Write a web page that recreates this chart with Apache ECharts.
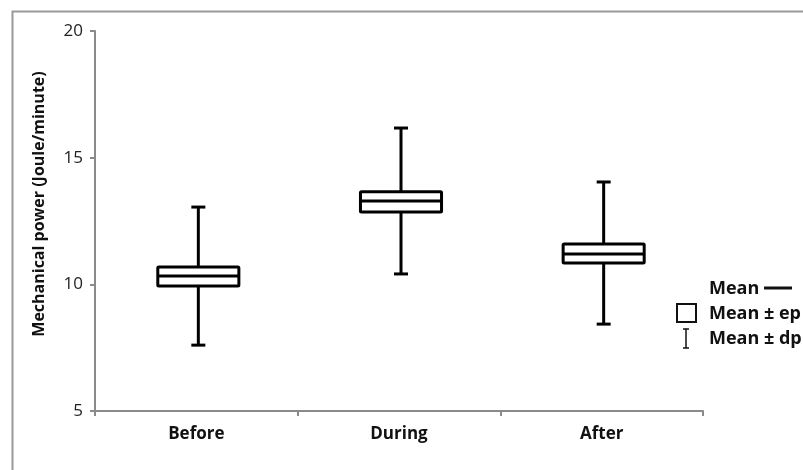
<!DOCTYPE html>
<html>
<head>
<meta charset="utf-8">
<script src="https://cdn.jsdelivr.net/npm/echarts@6/dist/echarts.min.js"></script>
<style>
html,body{margin:0;padding:0;background:#fff;}
#chart{width:803px;height:470px;}
</style>
</head>
<body>
<div id="chart"></div>
<script>
// Data
const categories = ['Before', 'During', 'After'];
const means = [10.33, 13.29, 11.20];
const boxLow = [9.93, 12.86, 10.84];    // mean - ep
const boxHigh = [10.68, 13.65, 11.59];  // mean + ep
const whiskerLow = [7.60, 10.41, 8.43]; // mean - dp
const whiskerHigh = [13.05, 16.17, 14.04]; // mean + dp
const yTicks = [5, 10, 15, 20];
const yTitle = 'Mechanical power (Joule/minute)';

const FONT = '"Open Sans", "Liberation Sans", sans-serif';

const seriesData = categories.map((c, i) => [i, whiskerLow[i], boxLow[i], means[i], boxHigh[i], whiskerHigh[i]]);

function renderItem(params, api) {
  const i = api.value(0);
  const pWL = api.coord([i, api.value(1)]);
  const pBL = api.coord([i, api.value(2)]);
  const pM = api.coord([i, api.value(3)]);
  const pBH = api.coord([i, api.value(4)]);
  const pWH = api.coord([i, api.value(5)]);
  const band = api.size([1, 0])[0];
  const bw = band * 0.4;
  const cx = pM[0] + 2;
  const cap = 7;
  const st = { stroke: '#000', lineWidth: 3, fill: null };
  return {
    type: 'group',
    children: [
      { type: 'line', shape: { x1: cx, y1: pWH[1], x2: cx, y2: pWL[1] }, style: st },
      { type: 'line', shape: { x1: cx - cap, y1: pWH[1], x2: cx + cap, y2: pWH[1] }, style: st },
      { type: 'line', shape: { x1: cx - cap, y1: pWL[1], x2: cx + cap, y2: pWL[1] }, style: st },
      { type: 'rect', shape: { x: cx - bw / 2, y: pBH[1], width: bw, height: pBL[1] - pBH[1], r: 1 },
        style: { stroke: '#000', lineWidth: 3, fill: '#fff' } },
      { type: 'line', shape: { x1: cx - bw / 2, y1: pM[1], x2: cx + bw / 2, y2: pM[1] }, style: st }
    ]
  };
}

const chart = echarts.init(document.getElementById('chart'), null, { renderer: 'canvas' });
const legendFont = 'bold 18px ' + FONT;
chart.setOption({
  animation: false,
  backgroundColor: '#fff',
  grid: { left: 95, right: 100, top: 31, bottom: 59, containLabel: false },
  xAxis: {
    type: 'category',
    data: categories,
    boundaryGap: true,
    axisLine: { lineStyle: { color: '#8a8a8a', width: 2 } },
    axisTick: { show: true, length: 5, lineStyle: { color: '#8a8a8a', width: 2 } },
    axisLabel: { color: '#111', fontFamily: FONT, fontWeight: 'bold', fontSize: 17, margin: 15 }
  },
  yAxis: {
    type: 'value',
    min: yTicks[0],
    max: yTicks[yTicks.length - 1],
    interval: 5,
    splitLine: { show: false },
    axisLine: { show: true, lineStyle: { color: '#8a8a8a', width: 2 } },
    axisTick: { show: true, length: 5, lineStyle: { color: '#8a8a8a', width: 2 } },
    axisLabel: { color: '#222', fontFamily: FONT, fontSize: 17, margin: 12 }
  },
  series: [{
    type: 'custom',
    renderItem: renderItem,
    encode: { x: 0, y: [1, 2, 3, 4, 5] },
    data: seriesData,
    z: 5
  }],
  graphic: [
    { type: 'rect', left: 10, top: 9, shape: { width: 820, height: 480 }, style: { fill: null, stroke: '#9a9a9a', lineWidth: 2 }, z: 0, silent: true },
    { type: 'text', x: 39, y: 204, rotation: Math.PI / 2,
      style: { text: yTitle, font: 'bold 16px ' + FONT, fill: '#111', align: 'center', verticalAlign: 'middle' } },
    { type: 'text', x: 709, y: 289, style: { text: 'Mean', font: legendFont, fill: '#111', verticalAlign: 'middle' } },
    { type: 'line', shape: { x1: 764, y1: 288, x2: 792, y2: 288 }, style: { stroke: '#111', lineWidth: 3 } },
    { type: 'rect', shape: { x: 677, y: 304, width: 19, height: 18 }, style: { fill: '#fff', stroke: '#111', lineWidth: 2 } },
    { type: 'text', x: 709, y: 314, style: { text: 'Mean ± ep', font: legendFont, fill: '#111', verticalAlign: 'middle' } },
    { type: 'line', shape: { x1: 686, y1: 329, x2: 686, y2: 348 }, style: { stroke: '#111', lineWidth: 1.5 } },
    { type: 'line', shape: { x1: 683, y1: 329, x2: 689, y2: 329 }, style: { stroke: '#111', lineWidth: 1.5 } },
    { type: 'line', shape: { x1: 683, y1: 348, x2: 689, y2: 348 }, style: { stroke: '#111', lineWidth: 1.5 } },
    { type: 'text', x: 709, y: 339, style: { text: 'Mean ± dp', font: legendFont, fill: '#111', verticalAlign: 'middle' } }
  ]
});
</script>
</body>
</html>
